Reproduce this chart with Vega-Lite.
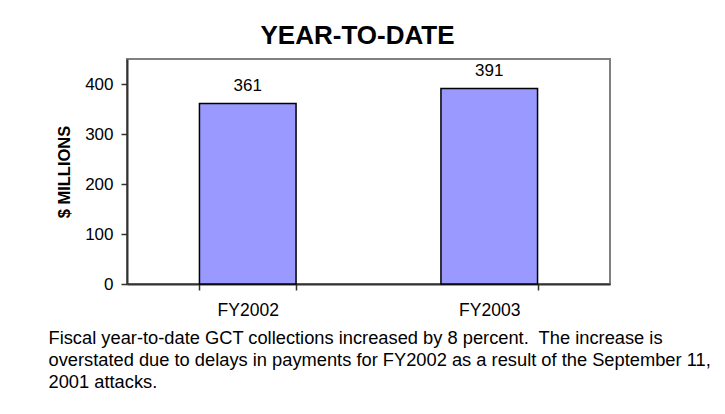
{
  "$schema": "https://vega.github.io/schema/vega-lite/v6.json",
  "width": 483,
  "height": 225,
  "autosize": {"type": "none"},
  "padding": {"left": 127, "top": 59, "right": 115, "bottom": 130},
  "background": "white",
  "title": {
    "text": "YEAR-TO-DATE",
    "font": "Liberation Sans",
    "fontSize": 26,
    "fontWeight": "bold",
    "color": "black",
    "anchor": "middle",
    "dx": -11,
    "offset": 10
  },
  "config": {
    "view": {"stroke": "#808080", "strokeWidth": 2},
    "font": "Liberation Sans"
  },
  "data": {
    "values": [
      {"year": "FY2002", "value": 361},
      {"year": "FY2003", "value": 391}
    ]
  },
  "encoding": {
    "x": {
      "field": "year",
      "type": "nominal",
      "scale": {"paddingInner": 0.6, "paddingOuter": 0.3},
      "axis": {
        "labelAngle": 0,
        "labelFont": "Liberation Sans",
        "labelFontSize": 17.5,
        "labelColor": "black",
        "labelPadding": 11,
        "tickBand": "extent",
        "tickSize": 6,
        "tickColor": "#333333",
        "tickWidth": 1.5,
        "domainColor": "#333333",
        "domainWidth": 2,
        "title": [
          "Fiscal year-to-date GCT collections increased by 8 percent.\u00a0 The increase is",
          "overstated due to delays in payments for FY2002 as a result of the September 11,",
          "2001 attacks."
        ],
        "titleFont": "Liberation Sans",
        "titleFontSize": 18.3,
        "titleFontWeight": "normal",
        "titleColor": "black",
        "titleAnchor": "start",
        "titleAlign": "left",
        "titleBaseline": "alphabetic",
        "titleX": -79,
        "titleY": 59,
        "titleLineHeight": 22
      }
    },
    "y": {
      "field": "value",
      "type": "quantitative",
      "scale": {"domain": [0, 450], "nice": false},
      "axis": {
        "values": [0, 100, 200, 300, 400],
        "grid": false,
        "labelFont": "Liberation Sans",
        "labelFontSize": 17,
        "labelColor": "black",
        "labelPadding": 8,
        "tickSize": 6,
        "tickColor": "#333333",
        "tickWidth": 1.5,
        "domainColor": "#333333",
        "domainWidth": 2,
        "title": "$ MILLIONS",
        "titleFont": "Liberation Sans",
        "titleFontSize": 16.5,
        "titleFontWeight": "bold",
        "titleColor": "black",
        "titlePadding": 12
      }
    }
  },
  "layer": [
    {
      "mark": {"type": "bar", "fill": "#9999FF", "stroke": "black", "strokeWidth": 1.5}
    },
    {
      "mark": {"type": "text", "baseline": "bottom", "dy": -9, "font": "Liberation Sans", "fontSize": 17, "color": "black"},
      "encoding": {"text": {"field": "value", "type": "quantitative"}}
    }
  ]
}
